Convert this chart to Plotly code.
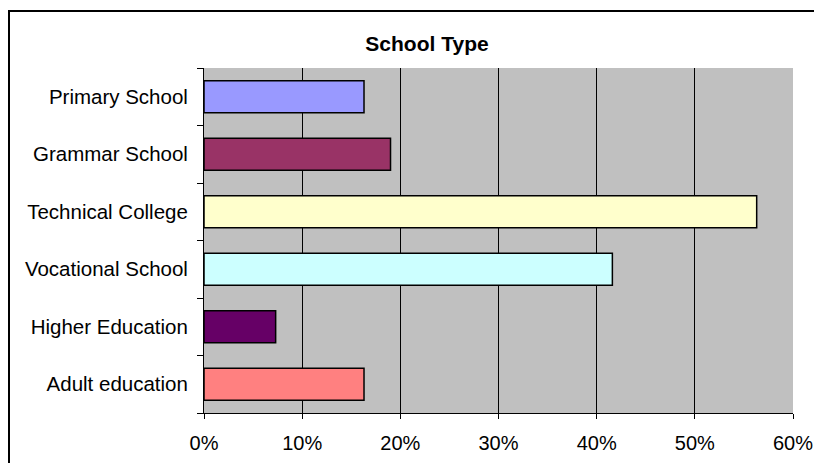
import plotly.graph_objects as go

# Share of respondents by school type (fraction of respondents)
categories = [
    "Primary School",
    "Grammar School",
    "Technical College",
    "Vocational School",
    "Higher Education",
    "Adult education",
]
shares = [0.163, 0.190, 0.563, 0.416, 0.073, 0.163]
bar_colors = ["#9999FF", "#993366", "#FFFFCC", "#CCFFFF", "#660066", "#FF8080"]
x_ticks = [0, 0.1, 0.2, 0.3, 0.4, 0.5, 0.6]
x_tick_labels = ["0%", "10%", "20%", "30%", "40%", "50%", "60%"]

W, H = 814, 463
L, R, T, B = 204, 21, 68, 50
plot_w = W - L - R
plot_h = H - T - B

fig = go.Figure(
    go.Bar(
        y=categories,
        x=shares,
        orientation="h",
        marker=dict(color=bar_colors, line=dict(color="#000000", width=1.5)),
        hoverinfo="skip",
    )
)

font = "Arial, 'Liberation Sans', sans-serif"

fig.update_layout(
    width=W,
    height=H,
    margin=dict(l=L, r=R, t=T, b=B, pad=0),
    paper_bgcolor="#FFFFFF",
    plot_bgcolor="#C0C0C0",
    bargap=0.44,
    showlegend=False,
    font=dict(family=font, size=20, color="#000000"),
    title=dict(
        text="<b>School Type</b>",
        font=dict(family=font, size=21, color="#000000"),
        x=427 / W,
        xref="container",
        xanchor="center",
        y=1 - 44 / H,
        yref="container",
        yanchor="middle",
    ),
)

fig.update_xaxes(
    range=[0, 0.6],
    tickvals=x_ticks,
    ticktext=x_tick_labels,
    showgrid=True,
    gridcolor="#000000",
    gridwidth=1,
    zeroline=False,
    showline=True,
    linecolor="#000000",
    linewidth=1,
    ticks="outside",
    ticklen=5,
    tickcolor="#000000",
    ticklabelstandoff=7,
    tickfont=dict(family=font, size=20),
    automargin=False,
    fixedrange=True,
)

fig.update_yaxes(
    categoryorder="array",
    categoryarray=categories[::-1],
    showgrid=False,
    zeroline=False,
    showline=True,
    linecolor="#000000",
    linewidth=1,
    ticks="outside",
    tickson="boundaries",
    ticklen=6,
    tickcolor="#000000",
    ticklabelstandoff=11,
    tickfont=dict(family=font, size=20.5),
    automargin=False,
    fixedrange=True,
)

# Chart frame: left and top edges of the outer border
fig.add_shape(
    type="rect",
    xref="paper",
    yref="paper",
    x0=(9 - L) / plot_w,
    x1=(W + 20 - L) / plot_w,
    y0=(H - B - (H + 20)) / plot_h,
    y1=(H - B - 11) / plot_h,
    line=dict(color="#000000", width=2),
    fillcolor="rgba(0,0,0,0)",
    layer="above",
)

fig.write_html("out.html")
